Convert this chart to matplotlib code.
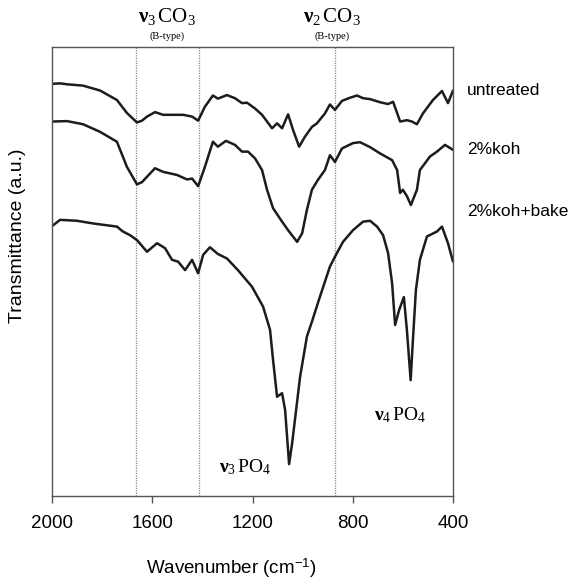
import matplotlib
matplotlib.use('Agg')
import matplotlib.pyplot as plt

# FTIR spectra (wavenumber in cm-1, transmittance in a.u.)
wn_untreated = [2000, 1968, 1940, 1876, 1808, 1741, 1701, 1661, 1641, 1621, 1589, 1557,
                1477, 1441, 1417, 1390, 1358, 1338, 1302, 1270, 1242, 1222, 1190, 1162,
                1122, 1102, 1082, 1058, 1038, 1014, 991, 963, 943, 911, 891, 871, 843,
                811, 783, 759, 731, 691, 659, 639, 611, 584, 564, 544, 520, 480, 444,
                420, 400]
t_untreated = [91.8, 91.9, 91.7, 91.4, 90.3, 88.2, 85.3, 83.2, 83.6, 84.5, 85.5, 84.9,
               84.9, 84.5, 83.6, 86.7, 89.2, 88.5, 89.3, 88.6, 87.5, 87.6, 86.3, 84.9,
               81.9, 83.0, 81.9, 85.0, 81.5, 77.8, 80.0, 82.2, 83.0, 85.2, 87.2, 86.0,
               88.0, 88.7, 89.2, 88.6, 88.4, 87.7, 87.3, 87.8, 83.4, 83.7, 83.4, 82.8,
               85.2, 88.2, 90.2, 87.5, 90.3]

wn_koh = [2000, 1940, 1876, 1808, 1741, 1701, 1661, 1641, 1621, 1589, 1557, 1501, 1461,
          1441, 1417, 1390, 1358, 1338, 1306, 1270, 1242, 1218, 1190, 1162, 1142, 1118,
          1082, 1058, 1022, 1002, 983, 963, 939, 911, 891, 871, 843, 799, 771, 731, 691,
          643, 623, 611, 600, 584, 568, 544, 532, 492, 464, 432, 400]
t_koh = [83.4, 83.5, 82.8, 81.1, 78.9, 73.3, 69.4, 69.9, 71.1, 73.0, 72.2, 71.5, 70.5,
         70.7, 69.0, 73.3, 78.9, 77.8, 79.1, 78.2, 76.7, 76.7, 75.2, 72.6, 68.2, 64.1,
         61.1, 59.2, 56.6, 58.5, 63.7, 68.2, 70.4, 72.6, 75.9, 74.4, 77.4, 78.6, 78.8,
         77.7, 76.3, 74.8, 72.6, 67.5, 68.2, 66.8, 64.8, 68.2, 72.6, 75.6, 76.7, 78.2,
         77.1]

wn_bake = [2000, 1968, 1900, 1836, 1741, 1717, 1689, 1661, 1621, 1581, 1549, 1521, 1497,
           1469, 1441, 1417, 1397, 1370, 1338, 1302, 1258, 1202, 1158, 1130, 1118, 1102,
           1082, 1070, 1054, 1042, 1010, 983, 963, 935, 891, 871, 839, 799, 759, 731,
           703, 679, 659, 643, 631, 615, 596, 584, 569, 560, 548, 532, 504, 464, 444,
           420, 400]
t_bake = [60.1, 61.5, 61.3, 60.7, 60.0, 58.9, 58.1, 57.0, 54.4, 56.3, 55.2, 52.6, 52.2,
          50.3, 52.6, 49.6, 53.7, 55.4, 53.9, 52.9, 50.3, 46.6, 42.2, 37.0, 30.3, 22.1,
          22.9, 19.2, 7.1, 11.7, 26.6, 35.5, 38.8, 43.7, 51.1, 53.3, 56.6, 59.2, 61.1,
          61.3, 60.0, 58.1, 54.1, 47.4, 38.1, 41.4, 44.3, 37.0, 25.8, 34.7, 45.9, 52.6,
          57.8, 58.9, 60.0, 56.3, 52.2]

series = [(wn_untreated, t_untreated, 'untreated'),
          (wn_koh, t_koh, '2%koh'),
          (wn_bake, t_bake, '2%koh+bake')]

band_lines = [1665, 1415, 872]
xticks = [2000, 1600, 1200, 800, 400]

plt.rcParams['mathtext.fontset'] = 'custom'
plt.rcParams['mathtext.rm'] = 'Liberation Serif'
plt.rcParams['mathtext.bf'] = 'Liberation Serif:bold'
plt.rcParams['mathtext.it'] = 'Liberation Serif:italic'
plt.rcParams['mathtext.sf'] = 'Liberation Sans'
sans = 'Liberation Sans'
serif = 'Liberation Serif'

fig = plt.figure(figsize=(5.74, 5.84), dpi=100)
ax = fig.add_axes([0.0906, 0.1507, 0.6986, 0.7688])

for x in band_lines:
    ax.axvline(x, color='#8a8a8a', lw=0.9, ls=(0, (1, 1)), zorder=1)

for wn, t, name in series:
    ax.plot(wn, t, color='#1c1c1c', lw=1.8, solid_joinstyle='round',
            solid_capstyle='round', zorder=2)

# curve labels at right
label_y = [90, 150, 212]
for (wn, t, name), py in zip(series, label_y):
    fig.text(467 / 574, 1 - py / 584, name, family=sans, fontsize=12.5, va='center')

ax.set_xlim(2000, 400)
ax.set_ylim(0, 100)
ax.set_xticks(xticks)
ax.set_xticklabels([str(v) for v in xticks], family=sans, fontsize=13.5)
ax.set_yticks([])
ax.tick_params(axis='x', direction='out', length=5, width=1, color='#555555', pad=9)
for s in ax.spines.values():
    s.set_color('#555555')
    s.set_linewidth(1.0)

ax.set_xlabel(r'Wavenumber (cm$^{\mathsf{-1}}$)', family=sans, fontsize=13.5, va='center')
ax.xaxis.set_label_coords(0.446, -0.16)
ax.set_ylabel('Transmittance (a.u.)', family=sans, fontsize=14, va='center')
ax.yaxis.set_label_coords(-0.085, 0.58)

# band annotations
ax.text(1540, 106.7, r'$\mathbf{\nu}_{3}\,\mathrm{CO}_{3}$', ha='center', va='center',
        fontsize=15, clip_on=False)
ax.text(1540, 102.4, '(B-type)', family=serif, ha='center', va='center', fontsize=7.5,
        clip_on=False)
ax.text(883, 106.7, r'$\mathbf{\nu}_{2}\,\mathrm{CO}_{3}$', ha='center', va='center',
        fontsize=15, clip_on=False)
ax.text(883, 102.4, '(B-type)', family=serif, ha='center', va='center', fontsize=7.5,
        clip_on=False)
ax.text(1230, 6.5, r'$\mathbf{\nu}_{3}\,\mathrm{PO}_{4}$', ha='center', va='center',
        fontsize=14)
ax.text(611, 18, r'$\mathbf{\nu}_{4}\,\mathrm{PO}_{4}$', ha='center', va='center',
        fontsize=14)

fig.savefig('out.png', dpi=100)
